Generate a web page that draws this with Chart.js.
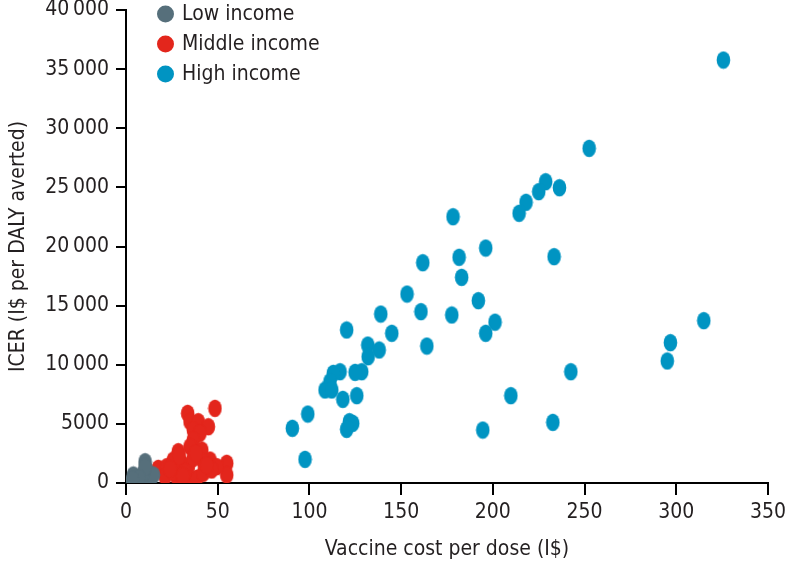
<!DOCTYPE html>
<html>
<head>
<meta charset="utf-8">
<script src="https://cdn.jsdelivr.net/npm/chart.js@4/dist/chart.umd.min.js"></script>
<style>
html,body{margin:0;padding:0;background:#fff;}
#wrap{width:789px;height:562px;}
</style>
</head>
<body>
<div id="wrap"><canvas id="c" width="789" height="562"></canvas></div>
<script>
// ---- data ----
const seriesNames = ["Low income", "Middle income", "High income"];
const seriesColors = ["#566f7b", "#e3261c", "#0094c2"];
const xTicks = [0, 50, 100, 150, 200, 250, 300, 350];
const yTicks = [0, 5000, 10000, 15000, 20000, 25000, 30000, 35000, 40000];

const lowX = [10.4, 4, 8.6, 13.1, 11.3, 5.8, 14.9, 9.4, 10.4, 7, 3.5];
const lowY = [1800, 680, 250, 250, 1100, 110, 680, 820, 1380, 400, 300];

const midX = [48.5, 33.6, 34.9, 39.4, 44.9, 36.7, 40.3, 36.7, 34.9, 28.5, 41.3, 45.8, 54.9, 54.9, 49.5,
              17.6, 22.2, 25.8, 27.6, 33.1, 38.5, 42.1, 34, 30.4, 42.1, 21.3, 36.7, 46.7, 32.2, 25.8,
              29, 38, 44, 31, 24];
const midY = [6315, 5890, 5185, 5185, 4760, 4480, 4200, 3640, 3070, 2650, 2790, 1945, 1665, 680, 1380,
              1240, 1380, 1945, 530, 250, 400, 820, 1380, 1665, 1800, 530, 2090, 1100, 955, 955,
              2300, 2500, 1500, 600, 1200];

const highX = [325.7, 252.5, 228.8, 236.3, 225, 218.1, 214.3, 178.3, 196.1, 181.6, 233.4, 161.8, 183, 153.2,
               192.1, 160.8, 138.9, 177.6, 201.2, 315, 120.3, 144.9, 196.1, 296.8, 164, 131.8, 138, 132,
               295.1, 128.5, 124.9, 116.7, 113, 242.5, 111.2, 108.5, 112.2, 118.2, 125.8, 209.8, 99.1,
               90.7, 121.8, 123.6, 120.3, 194.5, 232.7, 97.6];
const highY = [35770, 28300, 25480, 24970, 24640, 23740, 22810, 22520, 19870, 19090, 19140, 18630, 17390, 15980,
               15420, 14490, 14290, 14210, 13600, 13730, 12940, 12660, 12660, 11870, 11585, 11670, 11250, 10680,
               10320, 9410, 9360, 9410, 9275, 9410, 8570, 7865, 7865, 7075, 7385, 7385, 5835,
               4625, 5185, 5045, 4540, 4480, 5130, 2000];

const xTitle = "Vaccine cost per dose (I$)";
const yTitle = "ICER (I$ per DALY averted)";

// ---- helpers ----
const FONT = "'DejaVu Sans Condensed', 'DejaVu Sans', sans-serif";
const FS = 21;
const TEXT = "#231f20";

function ellipse(color) {
  const c = document.createElement('canvas');
  c.width = 15; c.height = 19;
  const g = c.getContext('2d');
  g.fillStyle = color;
  g.beginPath();
  g.ellipse(7.5, 9.5, 6.8, 8.7, 0, 0, Math.PI * 2);
  g.fill();
  return c;
}
function pts(xs, ys) { return xs.map((x, i) => ({x: x, y: ys[i]})); }
function fmt(v) {
  if (v >= 10000) { const s = String(v); return s.slice(0, s.length - 3) + '\u2009' + s.slice(-3); }
  return String(v);
}

const seriesData = [pts(lowX, lowY), pts(midX, midY), pts(highX, highY)];
const datasets = seriesNames.map((n, i) => ({
  label: n,
  data: seriesData[i],
  backgroundColor: seriesColors[i],
  borderColor: seriesColors[i],
  pointStyle: ellipse(seriesColors[i]),
  pointRadius: 7,
  pointHoverRadius: 7
}));

const legendPlugin = {
  id: 'legendInside',
  afterDraw(chart) {
    const ctx = chart.ctx;
    ctx.save();
    ctx.font = FS + "px " + FONT;
    ctx.textBaseline = 'middle';
    ctx.textAlign = 'left';
    chart.data.datasets.forEach((ds, i) => {
      const y = 14 + i * 30;
      ctx.fillStyle = ds.backgroundColor;
      ctx.beginPath();
      ctx.arc(165.5, y, 8.5, 0, Math.PI * 2);
      ctx.fill();
      ctx.fillStyle = TEXT;
      ctx.fillText(ds.label, 182, y + 1);
    });
    ctx.restore();
  }
};

new Chart(document.getElementById('c'), {
  type: 'scatter',
  data: { datasets: datasets },
  plugins: [legendPlugin],
  options: {
    responsive: false,
    devicePixelRatio: 1,
    animation: false,
    layout: { padding: 0 },
    plugins: { legend: { display: false }, tooltip: { enabled: false } },
    scales: {
      x: {
        type: 'linear', min: 0, max: 350,
        afterBuildTicks(s) { s.ticks = xTicks.map(v => ({value: v})); },
        afterFit(s) { s.height = 79; s.paddingRight = 21; s.paddingLeft = 0; },
        border: { display: true, color: '#000', width: 2 },
        grid: { display: true, drawOnChartArea: false, drawTicks: true, tickLength: 12, color: '#000', lineWidth: 2 },
        ticks: { color: TEXT, font: { family: FONT, size: FS }, padding: 5, maxRotation: 0 },
        title: { display: true, text: xTitle, color: TEXT, font: { family: FONT, size: FS }, padding: { top: 0, bottom: 0 } }
      },
      y: {
        type: 'linear', min: 0, max: 40000,
        afterBuildTicks(s) { s.ticks = yTicks.map(v => ({value: v})); },
        afterFit(s) { s.width = 126; s.paddingTop = 10; s.paddingBottom = 0; },
        border: { display: true, color: '#000', width: 2 },
        grid: { display: true, drawOnChartArea: false, drawTicks: true, tickLength: 10, color: '#000', lineWidth: 2 },
        ticks: { color: TEXT, font: { family: FONT, size: FS }, padding: 7, callback: v => fmt(v) },
        title: { display: true, text: yTitle, color: TEXT, font: { family: FONT, size: FS }, padding: { top: 6, bottom: 0 } }
      }
    }
  }
});
</script>
</body>
</html>
